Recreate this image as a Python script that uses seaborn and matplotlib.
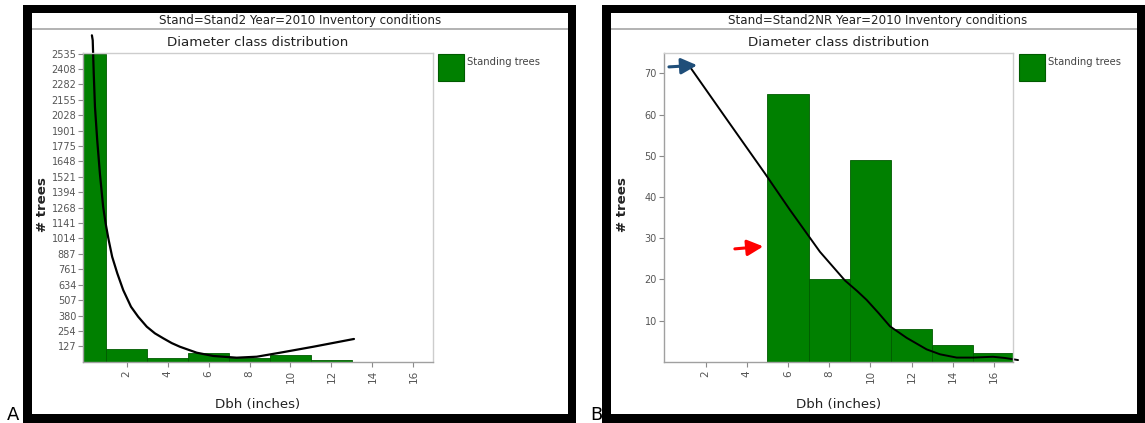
import matplotlib
matplotlib.use("Agg")
import matplotlib.pyplot as plt
from matplotlib.patches import Rectangle
import seaborn as sns

# ---- data ---------------------------------------------------------------
# 2-inch diameter classes centred on even inches
class_centers_a = [0, 2, 4, 6, 8, 10, 12]
trees_a = [2535, 101, 28, 69, 28, 55, 14]
class_edges_a = [-1, 1, 3, 5, 7, 9, 11, 13]

class_centers_b = [6, 8, 10, 12, 14, 16]
trees_b = [65, 20, 49, 8, 4, 2]
class_edges_b = [5, 7, 9, 11, 13, 15, 17]

yticks_a = [127, 254, 380, 507, 634, 761, 887, 1014, 1141, 1268, 1394,
            1521, 1648, 1775, 1901, 2028, 2155, 2282, 2408, 2535]
yticks_b = [10, 20, 30, 40, 50, 60, 70]
xticks = [2, 4, 6, 8, 10, 12, 14, 16]

# hand-drawn trend curves
trend_a_x = [0.30, 0.34, 0.39, 0.45, 0.56, 0.69, 0.85, 0.97, 1.12, 1.29, 1.54,
             1.83, 2.21, 2.56, 2.98, 3.38, 3.79, 4.20, 4.60, 5.42, 6.23,
             7.37, 8.35, 9.49, 11.11, 13.10]
trend_a_y = [2685, 2644, 2370, 2096, 1822, 1549, 1274, 1138, 1000, 863, 727,
             589, 452, 370, 288, 233, 192, 153, 123, 74, 47,
             33, 41, 74, 123, 187]
trend_b_x = [1.24, 3.05, 4.87, 6.09, 7.55, 8.77, 9.35, 9.82, 10.40, 10.95, 11.76,
             12.73, 13.38, 14.19, 15.00, 15.95, 16.54, 17.17]
trend_b_y = [71.6, 58.7, 45.8, 36.9, 26.7, 19.7, 17.2, 15.0, 11.8, 8.6, 5.8,
             3.0, 1.8, 1.0, 1.0, 1.2, 0.9, 0.4]

headers = ["Stand=Stand2 Year=2010 Inventory conditions",
           "Stand=Stand2NR Year=2010 Inventory conditions"]
subtitle = "Diameter class distribution"
xlabel = "Dbh (inches)"
ylabel = "# trees"
legend_label = "Standing trees"

# ---- style --------------------------------------------------------------
sns.set_theme(style="white")
plt.rcParams["font.family"] = ["DejaVu Sans"]

W, H = 1145, 423
fig = plt.figure(figsize=(W / 100, H / 100), dpi=100)
fig.patch.set_facecolor("white")

GREEN = "#008000"
EDGE = "#005a00"
TXT = "#222222"
TICKTXT = "#555555"


def fx(x):
    return x / W


def fy(y):
    return 1 - y / H


def add_axes_px(left, top, right, bottom):
    return fig.add_axes([fx(left), fy(bottom), (right - left) / W, (bottom - top) / H])


def frame(x0, x1):
    # thick black border around each panel
    for (l, t, r, b) in [(x0, 5, x0 + 8.5, 423), (x1 - 8, 5, x1, 423),
                         (x0, 5, x1, 13), (x0, 414, x1, 423)]:
        fig.patches.append(Rectangle((fx(l), fy(b)), (r - l) / W, (b - t) / H,
                                     transform=fig.transFigure, facecolor="black",
                                     edgecolor="none", zorder=5))
    # grey rule under the header strip
    fig.patches.append(Rectangle((fx(x0 + 8.5), fy(30)), (x1 - x0 - 16.5) / W, 2 / H,
                                 transform=fig.transFigure, facecolor="#b4b4b4",
                                 edgecolor="none", zorder=4))


def style_axes(ax, xlim, ylim, yticks):
    ax.set_xlim(*xlim)
    ax.set_ylim(*ylim)
    ax.set_xticks(xticks)
    ax.set_xticklabels([str(t) for t in xticks], rotation=90)
    ax.set_yticks(yticks)
    ax.set_yticklabels([str(t) for t in yticks])
    ax.set_xlabel("")
    ax.set_ylabel("")
    ax.tick_params(axis="both", which="both", direction="out", length=3.5, width=0.8,
                   color="#8a8a8a", labelcolor=TICKTXT, labelsize=7, pad=1.5,
                   bottom=True, left=True, top=False, right=False)
    ax.tick_params(axis="x", pad=2.5, labelsize=7.5)
    for side in ["left", "bottom"]:
        ax.spines[side].set_color("#a0a0a0")
        ax.spines[side].set_linewidth(1.0)
    for side in ["top", "right"]:
        ax.spines[side].set_color("#cdcdcd")
        ax.spines[side].set_linewidth(1.0)
    ax.set_facecolor("white")


def legend_px(x, y):
    fig.patches.append(Rectangle((fx(x), fy(y + 27)), 26 / W, 27 / H,
                                 transform=fig.transFigure, facecolor=GREEN,
                                 edgecolor=EDGE, linewidth=0.8, zorder=4))
    fig.text(fx(x + 29), fy(62), legend_label, ha="left", va="center",
             fontsize=7.2, color="#444444")


def panel_text(hx, ax_cx, ylab_x, header):
    fig.text(fx(hx), fy(20.5), header, ha="center", va="center", fontsize=8.6, color=TXT)
    fig.text(fx(ax_cx), fy(42.5), subtitle, ha="center", va="center", fontsize=9.6, color=TXT)
    fig.text(fx(ax_cx), fy(404), xlabel, ha="center", va="center", fontsize=9.6, color=TXT)
    fig.text(fx(ylab_x), fy(205), ylabel, ha="center", va="center", rotation=90,
             fontsize=9.6, fontweight="bold", color=TXT)


# ---- panel A ------------------------------------------------------------
frame(23, 575.5)
ax_a = add_axes_px(83.3, 53.3, 433, 361.7)
sns.histplot(x=class_centers_a, weights=trees_a, bins=class_edges_a, ax=ax_a,
             color=GREEN, edgecolor=EDGE, linewidth=0.6, alpha=1.0)
sns.lineplot(x=trend_a_x, y=trend_a_y, ax=ax_a, color="black", linewidth=1.6,
             estimator=None, sort=False)
ax_a.lines[-1].set_clip_on(False)
ax_a.lines[-1].set_solid_joinstyle("round")
style_axes(ax_a, (-0.12, 16.96), (0, 2537), yticks_a)
panel_text(300, 258, 43, headers[0])
legend_px(438, 54)
fig.text(fx(7), fy(415), "A", ha="left", va="center", fontsize=13, color="black")

# ---- panel B ------------------------------------------------------------
frame(602, 1145)
ax_b = add_axes_px(664, 53.3, 1013.3, 361.7)
sns.histplot(x=class_centers_b, weights=trees_b, bins=class_edges_b, ax=ax_b,
             color=GREEN, edgecolor=EDGE, linewidth=0.6, alpha=1.0)
sns.lineplot(x=trend_b_x, y=trend_b_y, ax=ax_b, color="black", linewidth=1.4,
             estimator=None, sort=False)
ax_b.lines[-1].set_clip_on(False)
ax_b.lines[-1].set_solid_joinstyle("round")
style_axes(ax_b, (-0.02, 16.94), (0, 74.9), yticks_b)
panel_text(878, 838.6, 623, headers[1])
legend_px(1019, 54)
fig.text(fx(590), fy(415), "B", ha="left", va="center", fontsize=13, color="black")

# pointer arrows
ax_b.annotate("", xy=(1.59, 72.0), xytext=(0.22, 71.6),
              arrowprops=dict(arrowstyle="-|>", color="#1f4e79", lw=2.2,
                              mutation_scale=24, shrinkA=0, shrinkB=0),
              annotation_clip=False)
ax_b.annotate("", xy=(4.80, 28.0), xytext=(3.42, 27.4),
              arrowprops=dict(arrowstyle="-|>", color="#ff0000", lw=2.2,
                              mutation_scale=24, shrinkA=0, shrinkB=0),
              annotation_clip=False)

fig.savefig("out.png", dpi=100, facecolor="white")
